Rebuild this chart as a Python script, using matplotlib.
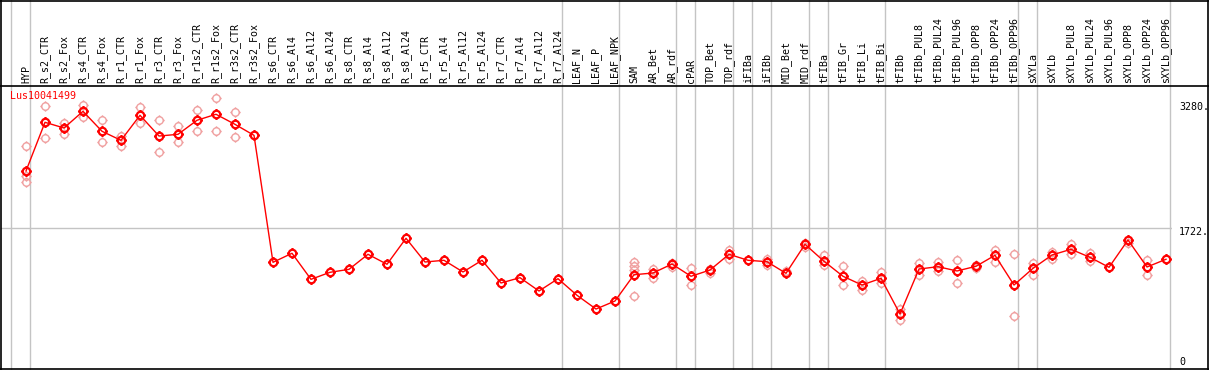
import matplotlib
matplotlib.use("Agg")
import matplotlib.pyplot as plt
from matplotlib.path import Path
from matplotlib.lines import Line2D
import matplotlib.transforms as mtransforms

# --- data ---
GENE = "Lus10041499"

labels = [
    "HYP", "R_s2_CTR", "R_s2_Fox", "R_s4_CTR", "R_s4_Fox", "R_r1_CTR", "R_r1_Fox",
    "R_r3_CTR", "R_r3_Fox", "R_r1s2_CTR", "R_r1s2_Fox", "R_r3s2_CTR", "R_r3s2_Fox",
    "R_s6_CTR", "R_s6_Al4", "R_s6_Al12", "R_s6_Al24", "R_s8_CTR", "R_s8_Al4",
    "R_s8_Al12", "R_s8_Al24", "R_r5_CTR", "R_r5_Al4", "R_r5_Al12", "R_r5_Al24",
    "R_r7_CTR", "R_r7_Al4", "R_r7_Al12", "R_r7_Al24", "LEAF_N", "LEAF_P", "LEAF_NPK",
    "SAM", "AR_Bet", "AR_rdf", "cPAR", "TOP_Bet", "TOP_rdf", "iFIBa", "iFIBb",
    "MID_Bet", "MID_rdf", "tFIBa", "tFIB_Gr", "tFIB_Li", "tFIB_Bi", "tFIBb",
    "tFIBb_PUL8", "tFIBb_PUL24", "tFIBb_PUL96", "tFIBb_OPP8", "tFIBb_OPP24",
    "tFIBb_OPP96", "sXYLa", "sXYLb", "sXYLb_PUL8", "sXYLb_PUL24", "sXYLb_PUL96",
    "sXYLb_OPP8", "sXYLb_OPP24", "sXYLb_OPP96",
]

means = [
    2449, 3073, 3000, 3214, 2958, 2842, 3163, 2897, 2919, 3099, 3176, 3047, 2906,
    1278, 1394, 1060, 1150, 1188, 1381, 1253, 1586, 1282, 1304, 1154, 1304,
    1013, 1081, 910, 1068, 855, 679, 782,
    1119, 1141, 1256, 1099, 1179, 1381, 1304, 1286, 1137, 1509, 1291,
    1099, 987, 1073, 615, 1192, 1222, 1167, 1227, 1368, 987,
    1201, 1372, 1445, 1342, 1214, 1564, 1218, 1317,
]

reps = [
    [2769, 2385, 2308], [3278, 2868], [3064, 2919], [3295, 3145], [3099, 2824],
    [2897, 2769], [3265, 3060], [3099, 2688], [3022, 2817], [3227, 2965],
    [3381, 2965], [3201, 2881], [],
    [], [], [], [], [], [], [], [], [], [], [], [], [], [], [], [], [], [], [],
    [1282, 1231, 1179, 846], [1188, 1073], [1273, 1222], [1209, 983],
    [1192, 1145], [1436, 1317], [], [1324, 1240], [1163], [1529, 1478],
    [1372, 1244], [1231, 983], [1035, 923], [1150, 1017], [679, 538],
    [1269, 1112], [1282, 1171], [1304, 1009], [1244, 1209], [1436, 1286],
    [1385, 586], [1265, 1119], [1414, 1317], [1517, 1381], [1394, 1295],
    [], [1529], [1304, 1115], [],
]

# group separators (drawn just right of these columns)
separators = [-1, 0, 28, 31, 34, 35, 37, 38, 39, 41, 42, 45, 52, 53, 60]
yticks = [0, 1722, 3280]

# --- layout (pixels) ---
W, H = 1209, 370
PX_L, PX_R = 1, 1172        # plot area x
PX_T, PX_B = 86, 369        # plot area y
COL = 19.0
X0 = 26                     # pixel x of column 0
FONT = "DejaVu Sans Mono"

fig = plt.figure(figsize=(W / 100, H / 100), dpi=100)
ax = fig.add_axes([PX_L / W, 1 - PX_B / H, (PX_R - PX_L) / W, (PX_B - PX_T) / H])
xmin = -(X0 - PX_L) / COL
ax.set_xlim(xmin, xmin + (PX_R - PX_L) / COL)
k = 0.078  # px per unit
ax.set_ylim((362 - PX_B) / k, (362 - PX_T) / k)
ax.axis("off")

# marker: circle with four little ticks
circ = Path.unit_circle()
ticks = Path([(1, 0), (1.4, 0), (-1, 0), (-1.4, 0), (0, 1), (0, 1.4), (0, -1), (0, -1.4)],
             [Path.MOVETO, Path.LINETO] * 4)
sun = Path.make_compound_path(circ, ticks)

grey = "#c4c4c4"
figy = mtransforms.blended_transform_factory(ax.transData, fig.transFigure)
for s in separators:
    ax.plot([s + 0.23, s + 0.23], [0, 1], color=grey, lw=1, transform=figy, clip_on=False, zorder=0)
ax.axhline(1722, color=grey, lw=1, zorder=0)

xs = list(range(len(labels)))
for i, r in enumerate(reps):
    if r:
        ax.plot([i] * len(r), r, linestyle="none", marker=sun, markersize=7.5,
                markerfacecolor="none", markeredgecolor="#f0a0a0", markeredgewidth=1.0, zorder=2)
ax.plot(xs, means, color="#ff0000", lw=1, zorder=3)
ax.plot(xs, means, linestyle="none", marker=sun, markersize=7.5, markerfacecolor="none",
        markeredgecolor="#ff0000", markeredgewidth=1.6, zorder=4)

# column labels in header
xt = ax.get_xaxis_transform()
for i, lab in enumerate(labels):
    ax.text(i, 1 + 3 / (PX_B - PX_T), lab, rotation=90, ha="center", va="bottom",
            fontsize=7.2, family=FONT, transform=xt, clip_on=False)

# value labels on the right
ylab_pos = {3280: 107, 1722: 232, 0: 362}
for v in yticks:
    txt = "0" if v == 0 else f"{v}."
    fig.text(1179 / W, 1 - ylab_pos[v] / H, txt, ha="left", va="center", fontsize=7.2, family=FONT)

fig.text(10 / W, 1 - 96 / H, GENE, color="#ff0000", ha="left", va="center", fontsize=7.2, family=FONT)

# frame and header line
for (x1, y1, x2, y2) in [(0.5, 0, 0.5, H), (W - 1, 0, W - 1, H), (0, 0.5, W, 0.5),
                         (0, H - 1, W, H - 1), (0, PX_T - 0.5, W, PX_T - 0.5)]:
    fig.add_artist(Line2D([x1 / W, x2 / W], [1 - y1 / H, 1 - y2 / H], color="black", lw=1.2))

fig.savefig("out.png", dpi=100)
